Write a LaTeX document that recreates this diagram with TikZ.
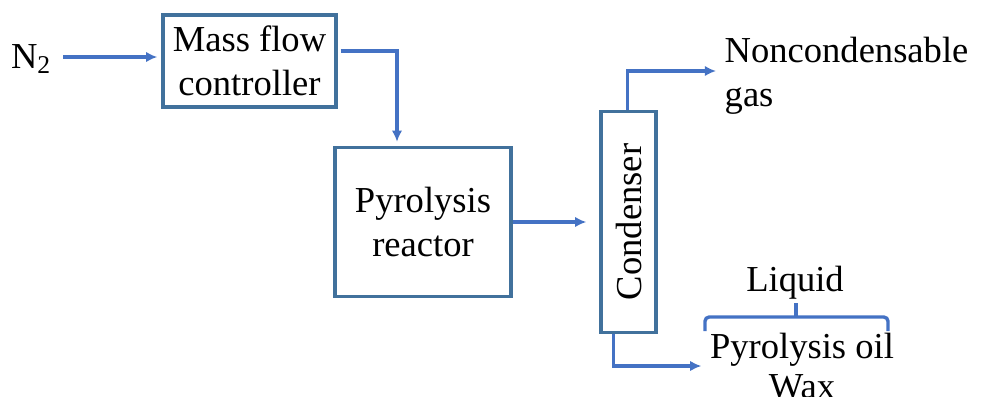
\documentclass[tikz,border=0pt]{standalone}
\usepackage{fontspec}
\setmainfont{Liberation Serif}
\usepackage{tikz}
\usetikzlibrary{arrows.meta}
\usetikzlibrary{calc}
\definecolor{boxline}{RGB}{65,113,156}
\definecolor{flowline}{RGB}{68,114,196}
\tikzset{>={Latex[length=8pt,width=7.5pt]}}
\tikzset{
  unit/.style={draw=boxline, line width=2.4pt, align=center, inner sep=0pt},
  flow/.style={->, flowline, line width=2.4pt},
  label/.style={align=center, inner sep=0pt}
}

\begin{document}
\begin{tikzpicture}[x=0.025cm, y=-0.025cm, font=\fontsize{26}{31}\selectfont]
            \useasboundingbox (0,0) rectangle (981,396);
            % units
            \node[unit, minimum width=4.325cm, minimum height=2.3cm] (mfc) at (249.5,61) {Mass flow\\controller};
            \node[unit, minimum width=4.4cm, minimum height=3.725cm] (reactor) at (423,222) {Pyrolysis\\reactor};
            \node[unit, minimum width=1.375cm, minimum height=5.525cm] (cond) at (628.5,222) {};
            \node[rotate=90] (condtext) at (cond.center) {Condenser};
            % streams in and out
            \node[label] (n2) at (31,59) {N\textsubscript{2}};
            \node[label, anchor=west, align=left, inner sep=6pt] (gas) at (716,76) {Noncondensable\\gas};
            \node[label, inner sep=6pt, font=\fontsize{26}{28.5}\selectfont] (oil) at (802,366) {Pyrolysis oil\\Wax};
            \node[label] (liquid) at (795,283) {Liquid};
            % flows
            \draw[flow] ($(n2.east)+(12,-2)$) -- ($(mfc.west)+(-4,-4)$);
            \draw[flow] ($(mfc.east)+(3,-10)$) -| ($(reactor.north)+(-26,-4)$);
            \draw[flow] (reactor.east) -- ($(cond.west)+(-13,0)$);
            \draw[flow] ($(cond.north)+(-1,0)$) |- ($(gas.west)+(0,-5)$);
            \draw[flow] ($(cond.south)+(-15,0)$) |- ($(oil.west)+(0,0)$);
            % brace over the liquid products
            \draw[flowline, line width=2.4pt, rounded corners=3pt] (705,331) -- (705,317) -- (888,317) -- (888,331);
            \draw[flowline, line width=2.4pt] (796,317) -- (796,303);
        \end{tikzpicture}
\end{document}
